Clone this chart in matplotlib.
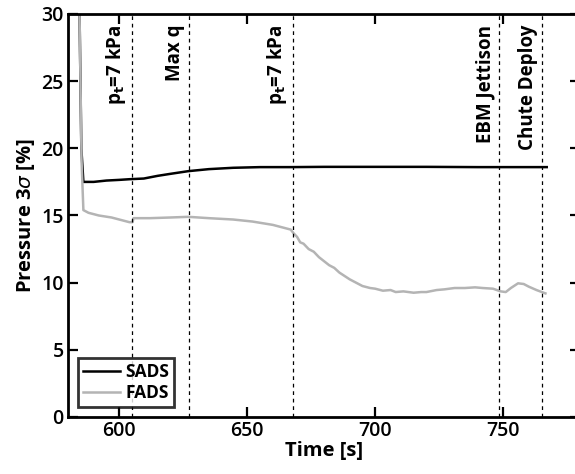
import numpy as np
import matplotlib
matplotlib.use('Agg')
import matplotlib.pyplot as plt

# DATA
sads_t = [584.5, 585.2, 586, 590, 595, 600, 604, 609.6, 615, 620, 627, 635, 644.5,
          655, 667, 680, 700, 720, 740, 750, 760, 767]
sads_p = [30.0, 20.0, 17.5, 17.5, 17.6, 17.65, 17.7, 17.75, 17.95, 18.1, 18.3, 18.45,
          18.55, 18.6, 18.6, 18.62, 18.62, 18.62, 18.6, 18.6, 18.6, 18.6]

fads_t = [584.5, 585.3, 586, 588, 592, 597, 600, 604, 605.2, 605.6, 612, 620, 627,
          635, 644.5, 652, 660, 667, 668, 669.5, 670.7, 672, 674, 676, 678, 680,
          682, 684, 686, 688, 690, 692.5, 695, 698, 700, 703, 706, 708, 711, 715,
          718, 720, 724, 727, 731, 735, 739, 742, 746, 749, 751, 753, 755.8, 758,
          760, 763, 766.5]
fads_p = [30.0, 19.0, 15.4, 15.2, 15.0, 14.85, 14.7, 14.5, 14.5, 14.8, 14.8, 14.85,
          14.9, 14.8, 14.7, 14.55, 14.3, 13.95, 13.7, 13.4, 13.0, 12.9, 12.5, 12.3,
          11.9, 11.6, 11.3, 11.1, 10.75, 10.5, 10.25, 10.0, 9.75, 9.6, 9.55, 9.4,
          9.45, 9.3, 9.35, 9.25, 9.3, 9.3, 9.45, 9.5, 9.6, 9.6, 9.65, 9.6, 9.55,
          9.35, 9.3, 9.6, 9.95, 9.9, 9.7, 9.45, 9.2]

event_t = [605, 627.3, 667.9, 748.4, 765]
event_lbl = [r'p$_\mathbf{t}$=7 kPa', 'Max q', r'p$_\mathbf{t}$=7 kPa',
             'EBM Jettison', 'Chute Deploy']

xticks = [600, 650, 700, 750]
yticks = [0, 5, 10, 15, 20, 25, 30]

# PLOT
plt.rcParams['font.family'] = ['Open Sans', 'DejaVu Sans']
plt.rcParams['mathtext.fontset'] = 'dejavusans'

fig = plt.figure(figsize=(5.75, 4.74), dpi=100)
ax = fig.add_axes([0.1183, 0.1203, 0.8904, 0.8502])

ax.plot(sads_t, sads_p, color='black', lw=1.8, label='SADS')
ax.plot(fads_t, fads_p, color='#b4b4b4', lw=1.8, label='FADS')

for t, lbl in zip(event_t, event_lbl):
    ax.axvline(t, color='black', lw=0.9, ls=(0, (3, 3)))
    ax.text(t - 1.5, 29.2, lbl, rotation=90, ha='right', va='top',
            fontsize=13.5, fontweight='bold')

ax.set_xlim(580, 780)
ax.set_ylim(0, 30)
ax.set_xticks(xticks)
ax.set_yticks(yticks)
ax.tick_params(direction='in', length=7, width=1.6, labelsize=14, top=True, right=True,
               pad=3)
for lab in ax.get_xticklabels() + ax.get_yticklabels():
    lab.set_fontweight('semibold')
for s in ax.spines.values():
    s.set_linewidth(2)

ax.set_xlabel('Time [s]', fontsize=14.5, fontweight='bold', labelpad=0)
ax.set_ylabel(r'Pressure 3$\sigma$ [%]', fontsize=14.5, fontweight='bold', labelpad=3)

leg = ax.legend(loc='lower left', fontsize=12.5, frameon=True, fancybox=False,
                borderpad=0.3, handlelength=2.1, handletextpad=0.3, labelspacing=0.15,
                bbox_to_anchor=(0.02, 0.025), borderaxespad=0)
leg.get_frame().set_edgecolor('black')
leg.get_frame().set_linewidth(2)
for txt in leg.get_texts():
    txt.set_fontweight('bold')

fig.savefig('out.png', dpi=100)
